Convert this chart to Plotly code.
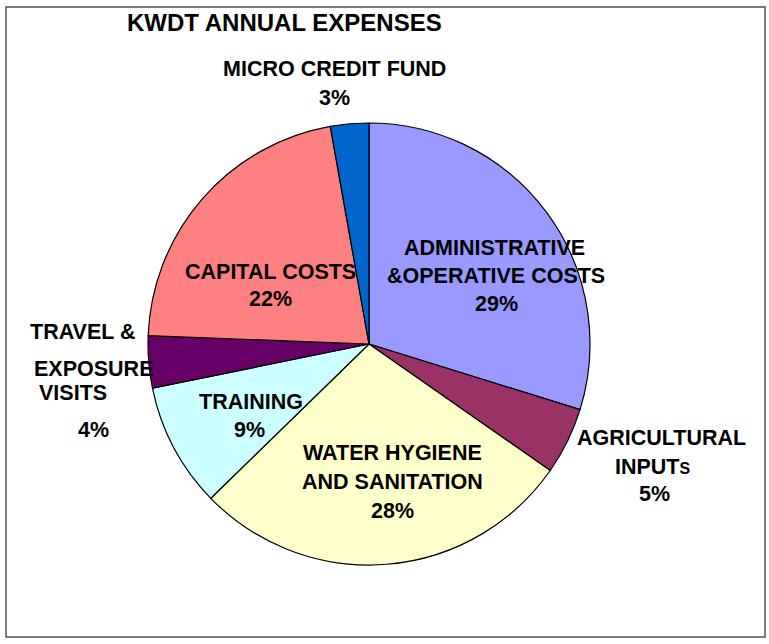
import plotly.graph_objects as go

# ---- data ----
categories = ["ADMINISTRATIVE &OPERATIVE COSTS", "AGRICULTURAL INPUTS",
              "WATER HYGIENE AND SANITATION", "TRAINING",
              "TRAVEL & EXPOSURE VISITS", "CAPITAL COSTS", "MICRO CREDIT FUND"]
shares = [29.8, 4.9, 28.0, 9.1, 3.8, 21.6, 2.8]
pct_labels = ["29%", "5%", "28%", "9%", "4%", "22%", "3%"]
label_lines = [["ADMINISTRATIVE", "&OPERATIVE COSTS"], ["AGRICULTURAL", "INPUTs"],
               ["WATER HYGIENE", "AND SANITATION"], ["TRAINING"],
               ["TRAVEL &", "EXPOSURE", "VISITS"], ["CAPITAL COSTS"], ["MICRO CREDIT FUND"]]
colors = ["#9999FF", "#993366", "#FFFFCC", "#CCFFFF", "#660066", "#FF8080", "#0066CC"]
title = "KWDT ANNUAL EXPENSES"

W, H = 769, 644
cx, cy, r = 369, 344, 221

fig = go.Figure(go.Pie(
    labels=categories, values=shares, sort=False, direction="clockwise", rotation=0,
    marker=dict(colors=colors, line=dict(color="black", width=1.2)),
    textinfo="none", hoverinfo="label+percent", showlegend=False,
    domain=dict(x=[(cx - r) / W, (cx + r) / W], y=[1 - (cy + r) / H, 1 - (cy - r) / H]),
))

FONT = "Liberation Sans, Arial, sans-serif"

def px(x, y):
    return x / W, 1 - y / H

# label placement (pixel centres of each text block)
placements = {
    0: [(495, 248), (496, 276), (496, 304)],
    1: [(661, 438), (653, 467), (654, 494)],
    2: [(392, 453), (392, 482), (392, 511)],
    3: [(251, 402), (250, 430)],
    4: [(83, 332), (93, 369), (73, 393), (93, 430)],
    5: [(270, 272), (270, 299)],
    6: [(334, 69), (334, 98)],
}
annotations = []
for i, lines in enumerate(label_lines):
    texts = lines + [pct_labels[i]]
    for t, (x, y) in zip(texts, placements[i]):
        if t == "INPUTs":
            t = "INPUT<span style='font-size:16px'>S</span>"
        ax, ay = px(x, y)
        annotations.append(dict(text=f"<b>{t}</b>", x=ax, y=ay, xref="paper", yref="paper",
                                xanchor="center", yanchor="middle", showarrow=False,
                                font=dict(family=FONT, size=21.5, color="black")))

tx, ty = px(284, 22)
annotations.append(dict(text=f"<b>{title}</b>", x=tx, y=ty, xref="paper", yref="paper",
                        xanchor="center", yanchor="middle", showarrow=False,
                        font=dict(family=FONT, size=24, color="black")))

fig.update_layout(
    width=W, height=H, margin=dict(l=0, r=0, t=0, b=0),
    paper_bgcolor="white", plot_bgcolor="white",
    annotations=annotations,
    shapes=[dict(type="rect", xref="paper", yref="paper",
                 x0=6 / W, x1=765 / W, y0=1 - 637 / H, y1=1 - 7 / H,
                 line=dict(color="#505050", width=1.5))],
)

fig.write_html("out.html", config={"displayModeBar": False},
               post_script="document.body.style.margin='0';")
